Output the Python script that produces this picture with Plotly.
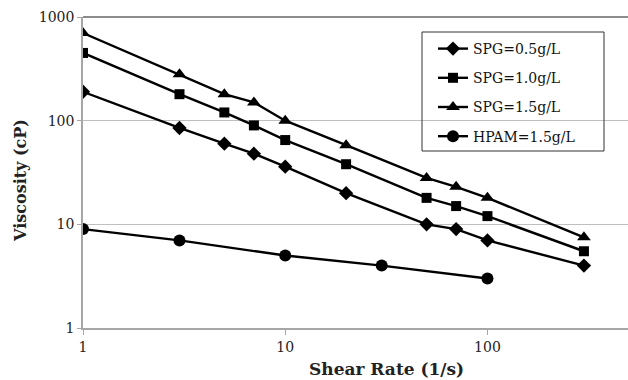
import plotly.graph_objects as go

x_spg = [1, 3, 5, 7, 10, 20, 50, 70, 100, 300]
spg05 = [190, 85, 60, 48, 36, 20, 10, 9, 7, 4]
spg10 = [450, 180, 120, 90, 65, 38, 18, 15, 12, 5.5]
spg15 = [700, 280, 180, 150, 100, 58, 28, 23, 18, 7.5]
x_hpam = [1, 3, 10, 30, 100]
hpam = [9, 7, 5, 4, 3]

series = [
    ("SPG=0.5g/L", x_spg, spg05, "diamond", 11),
    ("SPG=1.0g/L", x_spg, spg10, "square", 10),
    ("SPG=1.5g/L", x_spg, spg15, "triangle-up", 12),
    ("HPAM=1.5g/L", x_hpam, hpam, "circle", 12),
]

fig = go.Figure()
for i, (name, xs, ys, sym, sz) in enumerate(series):
    fig.add_trace(go.Scatter(
        x=xs, y=ys, name=name, mode="lines+markers", legendgroup=f"g{i}",
        line=dict(color="black", width=2.4),
        marker=dict(symbol=sym, size=sz, color="black"),
    ))

W, H = 628, 380
L, R, T, B = 83, 0, 17, 52
pw, ph = W - L - R, H - T - B

def px(xp):
    return (xp - L) / pw

def py(yp):
    return 1 - (yp - T) / ph

font_fam = "DejaVu Serif, Liberation Serif, serif"
fig.update_layout(
    width=W, height=H,
    margin=dict(l=L, r=R, t=T, b=B),
    paper_bgcolor="white", plot_bgcolor="white",
    font=dict(family=font_fam, color="#222", size=14),
    showlegend=True,
    legend=dict(
        x=px(433), y=py(33), xanchor="left", yanchor="top",
        borderwidth=0, bgcolor="rgba(255,255,255,0)",
        font=dict(family=font_fam, size=14, color="#111"),
        tracegroupgap=8, itemwidth=30,
    ),
    xaxis=dict(
        type="log", range=[0, 2.695],
        tickvals=[1, 10, 100], ticktext=["1", "10", "100"],
        showgrid=False, showline=True, linecolor="#a6a6a6", linewidth=1.5,
        ticks="outside", ticklen=5, tickcolor="#a6a6a6",
        tickfont=dict(size=14, family=font_fam, color="#222"),
        zeroline=False,
    ),
    yaxis=dict(
        type="log", range=[0, 3],
        tickvals=[1, 10, 100, 1000], ticktext=["1", "10", "100", "1000"],
        showgrid=True, gridcolor="#bfbfbf", gridwidth=1.2,
        showline=True, linecolor="#a6a6a6", linewidth=1.5,
        ticks="outside", ticklen=4, tickcolor="#a6a6a6",
        tickfont=dict(size=14, family=font_fam, color="#222"),
        zeroline=False,
    ),
)
fig.add_annotation(text="<b>Shear Rate (1/s)</b>", xref="paper", yref="paper",
                   x=px(386), y=py(369), xanchor="center", yanchor="middle",
                   showarrow=False, font=dict(size=17, family=font_fam, color="#222"))
fig.add_annotation(text="<b>Viscosity (cP)</b>", xref="paper", yref="paper",
                   x=px(21), y=py(181), xanchor="center", yanchor="middle", textangle=-90,
                   showarrow=False, font=dict(size=16, family=font_fam, color="#222"))
fig.add_shape(type="line", xref="paper", yref="paper", x0=0, x1=1, y0=1, y1=1,
              line=dict(color="#666", width=1.5))
fig.add_shape(type="rect", xref="paper", yref="paper",
              x0=px(422), x1=px(604), y0=py(151), y1=py(32),
              line=dict(color="#333", width=1))
fig.write_html("out.html")
